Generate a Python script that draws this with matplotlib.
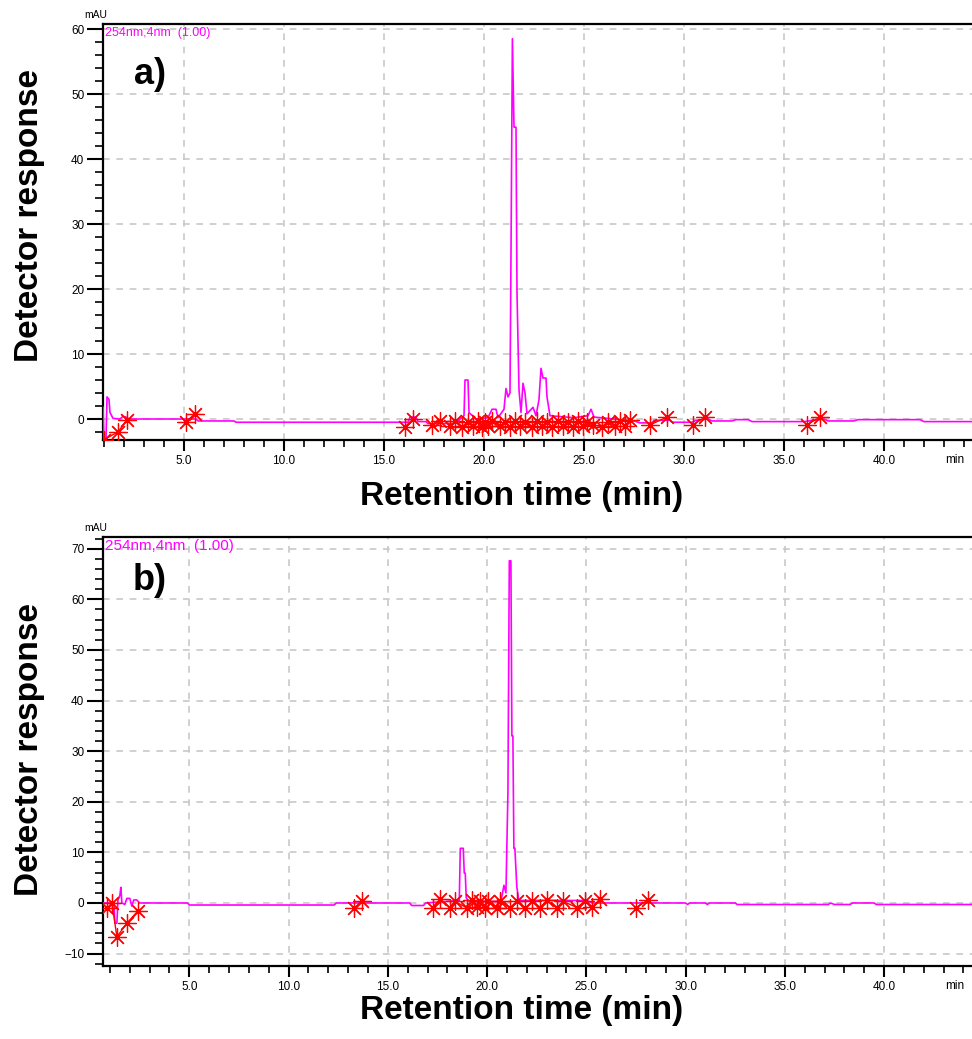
import numpy as np
import matplotlib
matplotlib.use('Agg')
import matplotlib.pyplot as plt
from matplotlib.ticker import MultipleLocator, FormatStrFormatter

# ---- chromatogram a) : breakpoints (min, mAU)
a_time = [0.95, 1.0, 1.1, 1.15, 1.25, 1.3, 1.45, 1.8, 1.95, 2.1, 2.25, 5.6, 5.7, 7.5, 7.6,
          16.2, 16.3, 16.6, 16.7, 17.1, 17.2, 18.5, 18.7, 19.0, 19.05, 19.2, 19.25, 19.6,
          20.2, 20.4, 20.6, 20.7, 21.0, 21.1, 21.2, 21.3, 21.35, 21.42, 21.5, 21.6, 21.65,
          21.75, 21.85, 21.95, 22.05, 22.15, 22.45, 22.6, 22.75, 22.85, 22.95, 23.1, 23.15,
          23.3, 24.5, 25.2, 25.35, 25.5, 26.5, 27.5, 27.8, 28.4, 28.5, 29.3, 29.4, 30.4,
          30.6, 31.2, 31.4, 32.4, 32.6, 33.2, 33.4, 36.0, 36.5, 37.0, 37.2, 38.5, 38.7,
          41.8, 42.0, 44.4]
a_signal = [1.8, -3.2, -3.2, 3.4, 3.0, 1.0, 0.1, 0.0, 0.4, 0.3, 0.0, 0.0, -0.3, -0.3, -0.5,
            -0.5, 0.3, 0.3, -0.4, -0.4, -0.7, -0.7, -0.3, 0.5, 6.0, 6.0, 1.0, 0.0,
            0.2, 1.5, 1.5, 0.2, 1.5, 4.7, 3.4, 4.0, 25.5, 58.5, 44.9, 44.9, 19.5,
            4.5, 1.0, 5.5, 4.0, 0.8, 1.8, 0.5, 3.0, 7.8, 6.3, 6.3, 3.4,
            0.5, 0.2, 0.5, 1.5, 0.3, 0.0, -0.3, -0.6, -0.6, -0.2, -0.2, -0.5, -0.5,
            -0.2, 0.0, -0.3, -0.3, -0.1, -0.1, -0.4, -0.4, -0.2, 0.0, -0.3, -0.3, -0.1,
            -0.1, -0.4, -0.4]

# peak start/end marks for a)
a_marks = [
    ([0.98, 1.7, 2.15], [-3.2, -2.0, -0.1]),
    ([5.1, 5.55], [-0.4, 0.8]),
    ([16.05, 16.45], [-1.2, 0.0]),
    ([17.4, 17.8], [-0.9, -0.3]),
    ([18.3, 18.55, 18.9, 19.2, 19.45, 19.7, 19.9, 20.05, 20.2, 20.4, 20.8, 21.05, 21.3,
      21.55, 21.8, 22.05, 22.4, 22.65, 22.9, 23.15, 23.4, 23.7, 23.95, 24.2, 24.45, 24.7,
      24.95, 25.15, 25.45, 25.9, 26.2, 26.55, 26.8, 27.05, 27.3],
     [-1.1, -0.3, -1.2, -0.4, -1.1, -0.3, -1.2, -0.4, -1.0, -0.3, -1.1, -0.4, -1.2,
      -0.3, -1.1, -0.4, -1.2, -0.3, -1.1, -0.4, -1.2, -0.3, -1.1, -0.4, -1.2, -0.3,
      -1.1, -0.4, -0.9, -1.2, -0.4, -1.1, -0.3, -1.0, -0.2]),
    ([28.3, 29.15], [-0.9, 0.3]),
    ([30.45, 31.05], [-0.9, 0.3]),
    ([36.15, 36.8], [-0.9, 0.3]),
]

# ---- chromatogram b)
b_time = [0.65, 1.2, 1.25, 1.35, 1.4, 1.5, 1.55, 1.6, 1.75, 1.85, 2.0, 2.1, 2.2, 2.35, 2.5,
          4.9, 5.0, 12.3, 12.4, 16.1, 16.2, 16.8, 16.9, 18.6, 18.65, 18.8, 18.85, 18.9,
          18.95, 19.1, 20.7, 20.85, 20.95, 21.05, 21.12, 21.2, 21.25, 21.3, 21.35, 21.4,
          21.5, 21.6, 25.0, 25.3, 30.0, 30.1, 30.2, 31.0, 31.1, 31.2, 32.5, 32.6, 37.2,
          37.3, 37.5, 38.3, 38.4, 39.5, 39.6, 44.4]
b_signal = [0.0, 0.0, -4.0, -4.0, 0.5, 1.5, 3.1, 0.0, -0.3, 0.9, 0.9, -0.6, 0.6, 0.6, 0.0,
            0.0, -0.4, -0.4, 0.0, 0.0, -0.5, -0.5, 0.0, 0.5, 10.8, 10.8, 5.9, 5.9,
            1.0, 0.3, 0.3, 3.5, 2.0, 21.8, 67.6, 67.6, 33.0, 33.0, 10.8, 10.8,
            3.1, 0.5, 0.5, 0.0, 0.0, -0.3, 0.0, 0.0, -0.3, 0.0, 0.0, -0.3, -0.3,
            0.0, -0.3, -0.3, 0.0, 0.0, -0.3, -0.3]

b_marks = [
    ([0.85, 1.1, 1.35, 1.85, 2.4], [-1.0, 0.0, -6.7, -4.0, -1.6]),
    ([13.3, 13.7], [-1.0, 0.3]),
    ([17.28, 17.63, 18.14, 18.39, 18.99, 19.24, 19.5, 19.65, 19.9, 20.05, 20.5, 20.66,
      21.16, 21.51, 21.91, 22.27, 22.67, 23.02, 23.53, 23.83, 24.53, 24.94, 25.29, 25.69],
     [-1.0, 0.8, -1.0, 0.3, -1.0, 0.5, -0.8, 0.3, -0.9, 0.4, -1.0, 0.3,
      -0.9, 0.4, -1.0, 0.3, -0.9, 0.5, -1.0, 0.3, -0.9, 0.4, -0.8, 0.8]),
    ([27.5, 28.1], [-1.0, 0.6]),
]

panels = [
    dict(label='a)', time=a_time, signal=a_signal, marks=a_marks, top=24, bottom=440,
         xlim=(0.95, 44.4), ylim=(-3.23, 60.77), yticks=(0, 60), lab_y=75, title_y=33,
         mau_y=15, xlab_y=497, ylab_y=216, tf=9),
    dict(label='b)', time=b_time, signal=b_signal, marks=b_marks, top=537, bottom=966,
         xlim=(0.65, 44.43), ylim=(-12.45, 72.3), yticks=(-10, 70), lab_y=580,
         title_y=546, mau_y=528, xlab_y=1010, ylab_y=750, tf=11),
]

W, H = 972, 1039
fig = plt.figure(figsize=(W / 100, H / 100), dpi=100)
plt.rcParams['font.family'] = ['Liberation Sans', 'DejaVu Sans']

for p in panels:
    ax = fig.add_axes([103 / W, 1 - p['bottom'] / H, (W - 103) / W, (p['bottom'] - p['top']) / H])
    ax.plot(p['time'], p['signal'], color='#ff00ff', lw=1.2, zorder=3)
    for mt, mv in p['marks']:
        ax.plot(mt, mv, color='#ff0000', lw=1.0, marker=(8, 2, 0), markersize=13,
                markeredgewidth=0.9, zorder=4)
    ax.set_xlim(*p['xlim'])
    ax.set_ylim(*p['ylim'])
    ax.xaxis.set_minor_locator(MultipleLocator(1))
    ax.yaxis.set_minor_locator(MultipleLocator(2))
    ax.xaxis.set_major_formatter(FormatStrFormatter('%.1f'))
    ax.set_xticks([t for t in range(5, 45, 5)])
    ax.set_yticks(list(range(p['yticks'][0], p['yticks'][1] + 1, 10)))
    ax.tick_params(axis='x', which='major', length=8, width=1.5, pad=3, labelsize=8.5)
    ax.tick_params(axis='x', which='minor', length=5, width=1.2)
    ax.tick_params(axis='y', which='major', length=11.5, width=1.5, pad=2, labelsize=8.5)
    ax.tick_params(axis='y', which='minor', length=6, width=1.2)
    ax.grid(True, which='major', color='#c8c8c8', linestyle=(0, (4, 4)), lw=1.2, zorder=0)
    ax.spines['right'].set_visible(False)
    for s in ['left', 'top', 'bottom']:
        ax.spines[s].set_linewidth(1.6)
    fig.text(150 / W, 1 - p['lab_y'] / H, p['label'], fontsize=26, fontweight='bold',
             ha='center', va='center')
    fig.text(105 / W, 1 - p['title_y'] / H, '254nm,4nm  (1.00)', color='#ff00ff',
             fontsize=p['tf'], ha='left', va='center')
    fig.text(84 / W, 1 - p['mau_y'] / H, 'mAU', fontsize=7.5, ha='left', va='center')
    fig.text(955 / W, 1 - (p['bottom'] + 20) / H, 'min', fontsize=8.5, ha='center', va='center')
    fig.text(522 / W, 1 - p['xlab_y'] / H, 'Retention time (min)', fontsize=24,
             fontweight='bold', ha='center', va='center')
    fig.text(30 / W, 1 - p['ylab_y'] / H, 'Detector response', fontsize=24,
             fontweight='bold', ha='center', va='center', rotation=90)

fig.savefig('out.png', dpi=100)
